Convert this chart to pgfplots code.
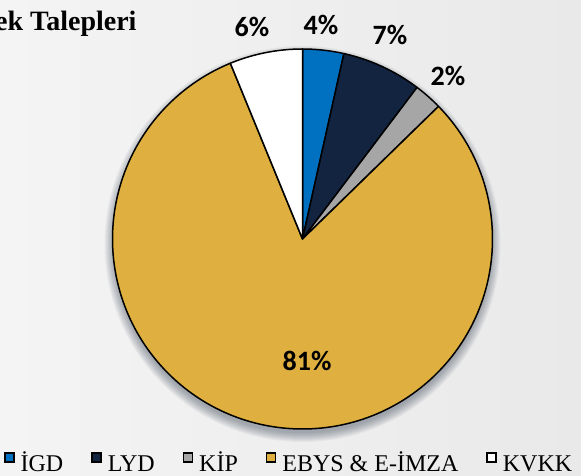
\documentclass[border=0pt]{standalone}
\usepackage{fontspec}
\setmainfont{Liberation Serif}
\newfontfamily\labelfont{Carlito}
\usepackage{pgfplots}
\usepackage{pgfplotstable}
\pgfplotsset{compat=1.18}

\definecolor{bgA}{HTML}{F4F4F4}
\definecolor{bgB}{HTML}{E9E9E9}
\definecolor{igd}{HTML}{0070C0}
\definecolor{lyd}{HTML}{12243F}
\definecolor{kip}{HTML}{A6A6A6}
\definecolor{ebys}{HTML}{DFB03F}
\definecolor{kvkk}{HTML}{FFFFFF}
\definecolor{shadowc}{HTML}{3A4656}

% share in percent, clockwise from 12 o'clock; label position in axis units
\pgfplotstableread{
name  value col   lab  lx      ly
IGD   3.5   igd   4    0.097   1.126
LYD   6.8   lyd   7    0.460   1.074
KIP   2.4   kip   2    0.766   0.858
EBYS  81.1  ebys  81   0.024  -0.642
KVKK  6.2   kvkk  6   -0.266   1.116
}\piedata

\newcommand{\legtxt}[1]{\vphantom{İ}\,#1}

\begin{document}
\begin{tikzpicture}
\shade[left color=bgA, right color=bgB] (0,0) rectangle (581pt,476pt);
\path[use as bounding box] (0,0) rectangle (581pt,476pt);

\node[anchor=base east, font=\bfseries\fontsize{28}{30}\selectfont] at (140pt,445pt) {Destek Talepleri};

\begin{axis}[
    at={(302.5pt,237pt)}, anchor=origin,
    x=190pt, y=190pt,
    xmin=-1, xmax=1, ymin=-1, ymax=1,
    hide axis, clip=false,
    legend columns=5,
    legend style={at={(0.465,-0.087)}, anchor=center, draw=none, fill=none,
        inner sep=0pt, font=\fontsize{24}{26}\selectfont,
        /tikz/every even column/.append style={column sep=26pt}},
    legend image code/.code={\draw[#1,line width=1.5pt] (0pt,0pt) rectangle (9pt,9pt);},
]
\pgfplotsextra{
  \foreach \k in {0,...,9}
    \fill[shadowc, opacity=0.05] ([yshift=-5pt]axis cs:0,0) circle[radius={(189+\k)*1pt}];
  \def\startang{90}
  \pgfplotsforeachungrouped \i in {0,...,4}{
    \pgfplotstablegetelem{\i}{value}\of\piedata \let\sliceval\pgfplotsretval
    \pgfplotstablegetelem{\i}{col}\of\piedata \let\slicecol\pgfplotsretval
    \pgfmathsetmacro\endang{\startang-3.6*\sliceval}
    \filldraw[fill=\slicecol, draw=black, line width=1.5pt, line join=round]
      (axis cs:0,0) -- (axis cs:{cos(\startang)},{sin(\startang)})
      arc[start angle=\startang, end angle=\endang, radius=190pt] -- cycle;
    \let\startang\endang
  }
  \pgfplotsforeachungrouped \i in {0,...,4}{
    \pgfplotstablegetelem{\i}{lab}\of\piedata \let\slicelab\pgfplotsretval
    \pgfplotstablegetelem{\i}{lx}\of\piedata \let\labx\pgfplotsretval
    \pgfplotstablegetelem{\i}{ly}\of\piedata \let\laby\pgfplotsretval
    \node[font=\labelfont\bfseries\fontsize{28}{30}\selectfont] at (axis cs:\labx,\laby) {\slicelab\%};
  }
}
\addlegendimage{fill=igd,draw=black}
\addlegendentry{\legtxt{İGD}}
\addlegendimage{fill=lyd,draw=black}
\addlegendentry{\legtxt{LYD}}
\addlegendimage{fill=kip,draw=black}
\addlegendentry{\legtxt{KİP}}
\addlegendimage{fill=ebys,draw=black}
\addlegendentry{\legtxt{EBYS \& E-İMZA}}
\addlegendimage{fill=kvkk,draw=black}
\addlegendentry{\legtxt{KVKK}}
\end{axis}
\end{tikzpicture}
\end{document}
